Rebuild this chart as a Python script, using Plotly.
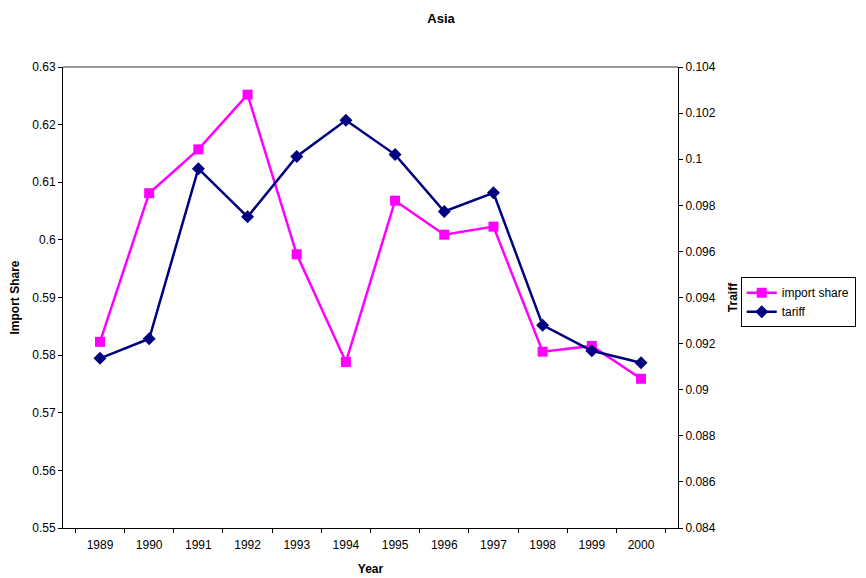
import plotly.graph_objects as go

years = ["1989", "1990", "1991", "1992", "1993", "1994", "1995", "1996", "1997", "1998", "1999", "2000"]
import_share = [0.5823, 0.6081, 0.6157, 0.6252, 0.5975, 0.5788, 0.6068, 0.6009, 0.6023, 0.5806, 0.5816, 0.5759]
tariff = [0.09136, 0.09221, 0.09959, 0.0975, 0.10012, 0.10169, 0.1002, 0.09773, 0.09854, 0.0928, 0.09169, 0.09117]

FONT = "Liberation Sans, Arial, sans-serif"

fig = go.Figure()
fig.add_trace(go.Scatter(
    x=years, y=import_share, name="import share", mode="lines+markers",
    line=dict(color="#FF00FF", width=2.5),
    marker=dict(symbol="square", size=10, color="#FF00FF"),
    yaxis="y",
))
fig.add_trace(go.Scatter(
    x=years, y=tariff, name="tariff", mode="lines+markers",
    line=dict(color="#000080", width=2.5),
    marker=dict(symbol="diamond", size=10, color="#000080"),
    yaxis="y2",
))

fig.update_layout(
    width=866, height=578,
    margin=dict(l=55, r=196, t=59, b=58, autoexpand=False),
    paper_bgcolor="white", plot_bgcolor="white",
    font=dict(family=FONT, size=12, color="black"),
    title=dict(text="<b>Asia</b>", x=0.5, xanchor="center", y=1 - 10 / 578, yanchor="middle",
               font=dict(family=FONT, size=13, color="black")),
    showlegend=True,
    legend=dict(x=1.102, y=0.544, xanchor="left", yanchor="top",
                bordercolor="black", borderwidth=1, bgcolor="white",
                font=dict(family=FONT, size=12, color="black"),
                tracegroupgap=0, itemwidth=30),
    xaxis=dict(
        type="category", tickson="boundaries", ticks="outside", ticklen=4,
        tickcolor="black", showline=True, linecolor="black", linewidth=1,
        showgrid=False, zeroline=False, ticklabelstandoff=6,
        title=dict(text="<b>Year</b>", font=dict(family=FONT, size=12), standoff=13),
        tickfont=dict(size=12),
    ),
    yaxis=dict(
        range=[0.55, 0.63], dtick=0.01, tick0=0.55, ticks="outside", ticklen=4,
        tickcolor="black", showline=True, linecolor="black", linewidth=1,
        showgrid=False, zeroline=False,
        title=dict(text="<b>Import Share</b>", font=dict(family=FONT, size=12), standoff=10),
        tickfont=dict(size=12),
    ),
    yaxis2=dict(
        range=[0.084, 0.104], dtick=0.002, tick0=0.084, overlaying="y", side="right",
        ticks="outside", ticklen=4, tickcolor="black", showline=True,
        linecolor="black", linewidth=1, showgrid=False, zeroline=False,
        title=dict(text="<b>Traiff</b>", font=dict(family=FONT, size=12), standoff=13),
        tickfont=dict(size=12),
    ),
    shapes=[dict(type="line", xref="paper", yref="paper", x0=0, x1=1, y0=1, y1=1,
                 line=dict(color="#999999", width=2))],
)

fig.write_html("out.html")
